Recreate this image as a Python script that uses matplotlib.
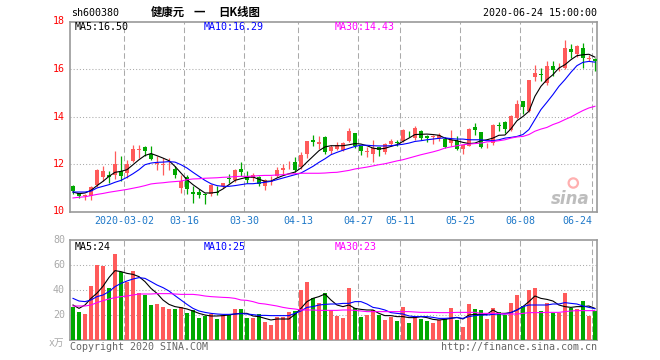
import matplotlib
matplotlib.use("Agg")
from matplotlib import pyplot as plt
import numpy as np

plt.rcParams['font.family'] = ['DejaVu Sans Mono', 'Noto Sans CJK SC']

# 88 sessions, 2020-02-18 .. 2020-06-24
date_ticks = [9, 19, 29, 38, 48, 55, 65, 75, 87]
date_labels = ["2020-03-02", "03-16", "03-30", "04-13", "04-27",
               "05-11", "05-25", "06-08", "06-24"]

opens = [11.09, 10.78, 10.65, 10.65, 11.10, 11.47, 11.55, 11.52, 11.69, 11.62,
         12.11, 12.60, 12.70, 12.42, 12.00, 11.97, 11.98, 11.80, 10.99, 11.44,
         10.82, 10.84, 10.72, 10.74, 10.80, 11.06, 11.40, 11.31, 11.77, 11.44,
         11.40, 11.44, 11.09, 11.25, 11.48, 11.73, 11.98, 12.08, 11.86, 12.42,
         13.02, 12.86, 13.15, 12.55, 12.65, 12.60, 12.98, 13.31, 12.74, 12.50,
         12.44, 12.70, 12.49, 12.84, 12.92, 12.98, 13.27, 13.09, 13.40, 13.19,
         13.15, 13.09, 13.07, 12.88, 12.98, 12.65, 12.77, 13.54, 13.36, 12.78,
         12.88, 13.64, 13.75, 13.45, 13.94, 14.67, 14.22, 15.66, 15.78, 15.41,
         16.11, 16.03, 16.04, 16.83, 16.63, 16.90, 16.42, 16.42]
highs = [11.10, 10.80, 10.75, 11.08, 11.80, 11.93, 11.70, 12.53, 12.32, 12.15,
         12.80, 12.80, 12.77, 12.76, 12.35, 12.25, 12.25, 11.90, 11.52, 11.55,
         11.06, 10.96, 10.78, 11.17, 11.09, 11.20, 11.58, 11.79, 12.07, 11.72,
         11.62, 11.48, 11.37, 11.48, 11.87, 12.00, 12.11, 12.28, 12.50, 12.98,
         13.22, 13.19, 13.18, 12.81, 12.94, 12.91, 13.53, 13.31, 12.77, 12.72,
         13.01, 12.73, 12.88, 13.07, 13.02, 13.47, 13.39, 13.60, 13.45, 13.22,
         13.24, 13.32, 13.12, 13.45, 13.16, 12.81, 13.52, 13.73, 13.36, 12.88,
         13.68, 13.78, 13.80, 14.05, 14.71, 14.67, 15.55, 16.18, 16.04, 16.32,
         16.32, 16.25, 17.22, 17.04, 17.02, 17.08, 16.60, 16.46]
lows = [10.75, 10.55, 10.50, 10.48, 11.05, 11.27, 11.20, 11.38, 11.27, 11.41,
        12.07, 12.25, 12.32, 12.18, 11.76, 11.55, 11.76, 11.41, 10.78, 10.75,
        10.36, 10.57, 10.33, 10.64, 10.68, 11.00, 11.20, 11.26, 11.48, 11.20,
        11.27, 11.06, 10.89, 11.13, 11.45, 11.52, 11.79, 11.66, 11.79, 12.25,
        12.77, 12.65, 12.44, 12.44, 12.58, 12.55, 12.94, 12.66, 12.38, 12.29,
        12.07, 12.32, 12.44, 12.76, 12.74, 12.94, 13.12, 13.02, 13.02, 12.91,
        12.86, 12.98, 12.66, 12.74, 12.60, 12.44, 12.74, 13.24, 12.67, 12.66,
        12.81, 13.40, 13.31, 13.40, 13.90, 14.12, 14.19, 15.48, 15.48, 15.34,
        15.69, 15.90, 16.01, 16.45, 16.49, 16.05, 16.32, 15.90]
closes = [10.85, 10.65, 10.68, 11.05, 11.75, 11.72, 11.44, 12.00, 11.48, 11.98,
          12.65, 12.65, 12.56, 12.22, 12.05, 11.99, 12.02, 11.55, 11.27, 10.95,
          10.72, 10.68, 10.70, 11.13, 10.78, 11.18, 11.38, 11.73, 11.65, 11.33,
          11.52, 11.17, 11.31, 11.27, 11.76, 11.83, 12.00, 11.73, 12.36, 12.98,
          12.91, 12.94, 12.52, 12.72, 12.80, 12.88, 13.39, 12.74, 12.53, 12.52,
          12.69, 12.59, 12.86, 12.95, 12.90, 13.42, 13.25, 13.52, 13.09, 13.09,
          13.17, 13.22, 12.72, 13.02, 12.65, 12.81, 13.49, 13.42, 12.72, 12.80,
          13.66, 13.62, 13.47, 14.04, 14.54, 14.38, 15.52, 15.83, 15.74, 16.14,
          15.94, 16.05, 16.88, 16.70, 16.95, 16.45, 16.44, 16.33]

ma5 = [10.82, 10.75, 10.78, 10.89, 11.09, 11.27, 11.48, 11.65, 11.69, 11.76,
       11.97, 12.18, 12.36, 12.44, 12.35, 12.25, 12.14, 11.90, 11.62, 11.34,
       11.13, 10.95, 10.78, 10.78, 10.81, 10.95, 11.13, 11.31, 11.38, 11.44,
       11.45, 11.36, 11.27, 11.28, 11.41, 11.51, 11.59, 11.66, 11.83, 12.08,
       12.32, 12.56, 12.72, 12.77, 12.77, 12.77, 12.81, 12.86, 12.84, 12.77,
       12.67, 12.63, 12.66, 12.74, 12.81, 12.95, 13.09, 13.24, 13.25, 13.26,
       13.24, 13.21, 13.09, 13.02, 12.98, 12.91, 12.86, 12.88, 12.98, 13.02,
       13.09, 13.21, 13.22, 13.48, 13.82, 14.00, 14.22, 14.85, 15.27, 15.55,
       15.76, 16.04, 16.18, 16.39, 16.56, 16.60, 16.62, 16.50]
ma10 = [10.82, 10.82, 10.82, 10.86, 10.99, 11.06, 11.13, 11.23, 11.31, 11.44,
        11.59, 11.76, 11.97, 12.04, 12.07, 12.08, 12.10, 12.08, 11.97, 11.83,
        11.65, 11.48, 11.31, 11.17, 11.09, 11.06, 11.06, 11.09, 11.13, 11.17,
        11.17, 11.20, 11.23, 11.27, 11.34, 11.41, 11.48, 11.55, 11.62, 11.76,
        11.90, 12.07, 12.22, 12.39, 12.49, 12.58, 12.66, 12.74, 12.79, 12.79,
        12.77, 12.76, 12.76, 12.77, 12.80, 12.83, 12.88, 12.95, 12.98, 13.02,
        13.05, 13.08, 13.10, 13.07, 13.05, 13.05, 13.02, 13.02, 13.02, 12.98,
        12.98, 13.02, 13.09, 13.12, 13.16, 13.24, 13.45, 13.87, 14.29, 14.60,
        14.92, 15.27, 15.55, 15.86, 16.14, 16.28, 16.32, 16.29]
ma30 = [10.57, 10.60, 10.62, 10.67, 10.72, 10.76, 10.81, 10.85, 10.89, 10.93,
        10.98, 11.03, 11.09, 11.16, 11.19, 11.21, 11.24, 11.26, 11.28, 11.34,
        11.37, 11.38, 11.40, 11.41, 11.42, 11.44, 11.45, 11.47, 11.48, 11.48,
        11.49, 11.51, 11.52, 11.52, 11.54, 11.55, 11.58, 11.59, 11.61, 11.61,
        11.61, 11.61, 11.62, 11.64, 11.65, 11.69, 11.73, 11.79, 11.83, 11.87,
        11.92, 11.97, 12.01, 12.07, 12.13, 12.18, 12.25, 12.32, 12.39, 12.45,
        12.51, 12.58, 12.67, 12.72, 12.77, 12.81, 12.84, 12.86, 12.88, 12.93,
        12.95, 12.98, 13.02, 13.09, 13.14, 13.16, 13.24, 13.38, 13.47, 13.54,
        13.66, 13.75, 13.87, 13.98, 14.12, 14.25, 14.36, 14.43]

# volume, x10k shares
volume = [26.7, 22.7, 20.8, 43.2, 60.0, 59.2, 41.9, 68.8, 54.5, 46.7,
          55.2, 37.9, 36.0, 28.0, 28.8, 26.7, 24.8, 24.8, 26.1, 21.9,
          24.0, 17.9, 19.2, 20.5, 16.8, 20.0, 20.0, 24.8, 24.8, 17.9,
          17.9, 20.5, 14.1, 12.0, 18.7, 18.7, 22.4, 23.2, 40.0, 46.7,
          33.3, 29.3, 37.3, 24.0, 19.5, 17.9, 41.9, 25.9, 18.7, 20.0,
          24.0, 20.0, 16.0, 18.4, 15.2, 26.4, 13.6, 18.7, 16.8, 15.2,
          13.6, 16.0, 16.8, 25.6, 16.0, 10.4, 28.8, 24.8, 24.0, 16.8,
          25.6, 22.4, 20.0, 29.6, 36.0, 27.2, 40.0, 41.6, 23.2, 29.6,
          21.6, 21.6, 37.6, 25.6, 24.8, 31.2, 19.5, 23.2]
vma5 = [28.0, 25.3, 28.0, 33.3, 37.5, 43.0, 50.0, 55.5, 54.7, 53.3,
        52.5, 50.7, 46.7, 41.3, 37.3, 32.0, 28.5, 26.7, 25.9, 24.8,
        23.2, 21.3, 20.0, 19.2, 19.2, 19.5, 20.0, 20.8, 21.3, 21.3,
        19.2, 18.7, 17.3, 16.0, 16.8, 16.8, 16.8, 20.5, 25.3, 30.7,
        33.3, 34.7, 36.8, 32.0, 28.0, 26.7, 28.0, 25.3, 24.5, 24.0,
        24.0, 21.3, 19.5, 19.5, 18.7, 18.7, 17.9, 17.9, 18.7, 17.9,
        16.5, 16.0, 16.5, 17.3, 18.1, 16.8, 20.0, 20.5, 20.5, 20.5,
        24.0, 21.3, 21.3, 21.9, 24.0, 26.7, 30.7, 35.2, 33.3, 32.5,
        31.2, 28.0, 26.7, 26.1, 26.7, 26.7, 27.2, 25.3]
vma10 = [33.3, 31.2, 30.7, 32.0, 34.7, 36.0, 38.7, 42.7, 45.3, 47.2,
         48.8, 49.9, 49.3, 46.7, 44.0, 41.9, 39.2, 35.5, 32.0, 28.5,
         25.3, 23.2, 22.1, 21.3, 20.8, 20.5, 20.5, 20.8, 21.1, 20.8,
         20.3, 19.7, 19.7, 19.5, 19.5, 19.5, 19.5, 21.3, 23.2, 26.1,
         26.7, 28.0, 28.5, 28.8, 28.8, 29.3, 29.3, 30.7, 30.7, 28.8,
         26.1, 25.3, 24.0, 21.9, 21.3, 20.8, 19.2, 18.7, 18.7, 18.7,
         18.1, 17.3, 17.3, 17.6, 17.9, 17.3, 18.7, 19.5, 20.0, 20.0,
         20.5, 20.8, 20.8, 21.9, 24.0, 26.7, 28.0, 28.0, 28.0, 28.0,
         28.8, 28.8, 29.9, 29.3, 28.8, 27.2, 26.1, 25.0]
vma30 = [27.2, 27.2, 27.2, 28.0, 29.9, 31.5, 32.8, 33.9, 34.7, 35.2,
         36.0, 36.8, 36.8, 36.8, 37.1, 37.1, 37.1, 36.8, 36.5, 36.5,
         36.5, 36.0, 35.2, 34.7, 34.4, 34.1, 33.9, 33.3, 32.0, 31.7,
         30.7, 29.3, 28.8, 28.0, 27.2, 26.1, 25.3, 24.8, 24.0, 24.0,
         24.0, 23.7, 23.7, 23.7, 23.7, 24.0, 24.0, 23.7, 23.2, 22.7,
         22.7, 22.7, 22.7, 22.7, 22.7, 22.7, 22.7, 22.4, 22.1, 22.1,
         22.1, 21.9, 21.9, 21.9, 22.1, 22.1, 22.1, 22.1, 21.3, 21.3,
         21.3, 21.3, 20.8, 20.8, 20.8, 21.3, 21.9, 21.9, 21.9, 22.1,
         22.1, 22.1, 22.7, 23.2, 23.5, 23.5, 23.5, 23.5]

RED = '#ff5a5a'
GREEN = '#00a800'
GRID = '#aaaaaa'
W, H = 660, 360


def fx(x):
    return x / W


def fy(y):
    return 1 - y / H


fig = plt.figure(figsize=(6.6, 3.6), dpi=100)
fig.patch.set_facecolor('white')

ax = fig.add_axes([fx(70), fy(211.5), 527 / W, 190 / H])
axv = fig.add_axes([fx(70), fy(340), 527 / W, 100 / H])

o = np.array(opens)
c = np.array(closes)
x = np.arange(len(o)) + 0.5
up = c >= o
colors = np.where(up, RED, GREEN)

# candles
ax.vlines(x, lows, highs, colors=colors, linewidth=0.9, zorder=3)
body_bot = np.minimum(o, c)
body_h = np.maximum(np.abs(c - o), 0.03)
ax.bar(x, body_h, bottom=body_bot, width=0.8, color=colors, linewidth=0, zorder=4)

ax.plot(x, ma5, color='black', lw=0.8, zorder=5)
ax.plot(x, ma10, color='#0000ff', lw=0.8, zorder=5)
ax.plot(x, ma30, color='#ff00ff', lw=0.8, zorder=5)

# volume
axv.bar(x, volume, width=0.8, color=colors, linewidth=0, zorder=3)
axv.plot(x, vma5, color='black', lw=0.8, zorder=5)
axv.plot(x, vma10, color='#0000ff', lw=0.8, zorder=5)
axv.plot(x, vma30, color='#ff00ff', lw=0.8, zorder=5)

for a, ylim, hgrid in [(ax, (10, 18), [12, 14, 16]), (axv, (0, 80), [20, 40, 60])]:
    a.set_xlim(0, 87.85)
    a.set_ylim(*ylim)
    a.set_xticks([])
    a.set_yticks([])
    for s in a.spines.values():
        s.set_color('#999999')
        s.set_linewidth(1.2)
    for h in hgrid:
        a.axhline(h, color=GRID, lw=0.75, linestyle=(0, (1, 2)), zorder=1)
    for t in date_ticks:
        a.axvline(t, color=GRID, lw=0.75, linestyle=(0, (5.3, 2.9)), zorder=1)

# price axis labels
for v in [10, 12, 14, 16, 18]:
    ax.text(-0.0095, v, str(v), transform=ax.get_yaxis_transform(),
            ha='right', va='center', color='#ff0000', fontsize=7.2)
for v in [20, 40, 60, 80]:
    axv.text(-0.0095, v, str(v), transform=axv.get_yaxis_transform(),
             ha='right', va='center', color='#aaaaaa', fontsize=7.2)
fig.text(fx(64), fy(343), 'x万', ha='right', va='center', color='#aaaaaa', fontsize=7)

# date labels
for t, lab in zip(date_ticks, date_labels):
    ha = 'right' if t == date_ticks[-1] else 'center'
    ax.text(t, -0.05, lab, transform=ax.get_xaxis_transform(), ha=ha, va='center',
            color='#1e78c8', fontsize=7.2)

# header
cjk = ['Noto Sans CJK SC']
fig.text(fx(71), fy(13), 'sh600380', ha='left', va='center', fontsize=7.2)
fig.text(fx(151), fy(12.5), '健康元', ha='left', va='center', fontsize=8.2,
         family=cjk, fontweight='bold')
fig.text(fx(194), fy(12.5), '一', ha='left', va='center', fontsize=8.2,
         family=cjk, fontweight='bold')
fig.text(fx(218), fy(12.5), '日K线图', ha='left', va='center', fontsize=8.2,
         family=cjk, fontweight='bold')
fig.text(fx(597), fy(13), '2020-06-24 15:00:00', ha='right', va='center', fontsize=7.2)

# MA legends
fig.text(fx(75), fy(26.5), 'MA5:%.2f' % ma5[-1], color='black', fontsize=7.2, va='center')
fig.text(fx(204), fy(26.5), 'MA10:%.2f' % ma10[-1], color='#0000ff', fontsize=7.2, va='center')
fig.text(fx(335), fy(26.5), 'MA30:%.2f' % ma30[-1], color='#ff00ff', fontsize=7.2, va='center')
fig.text(fx(75), fy(246.5), 'MA5:24', color='black', fontsize=7.2, va='center')
fig.text(fx(204), fy(246.5), 'MA10:25', color='#0000ff', fontsize=7.2, va='center')
fig.text(fx(335), fy(246.5), 'MA30:23', color='#ff00ff', fontsize=7.2, va='center')

# footer
fig.text(fx(70), fy(347), 'Copyright 2020 SINA.COM', color='#666666', fontsize=7.2, va='center')
fig.text(fx(597), fy(347), 'http://finance.sina.com.cn', color='#666666', fontsize=7.2,
         va='center', ha='right')

# sina watermark
ax.text(0.985, 0.065, 'sina', transform=ax.transAxes, ha='right', va='center',
        color='#bdbdbd', fontsize=12, fontweight='bold', style='italic',
        family=['DejaVu Sans'], zorder=2)
ax.scatter([0.955], [0.15], transform=ax.transAxes, s=45, facecolor='none',
           edgecolor='#ffb0b0', linewidth=1.6, zorder=2)

fig.savefig('out.png', dpi=100, facecolor='white')
